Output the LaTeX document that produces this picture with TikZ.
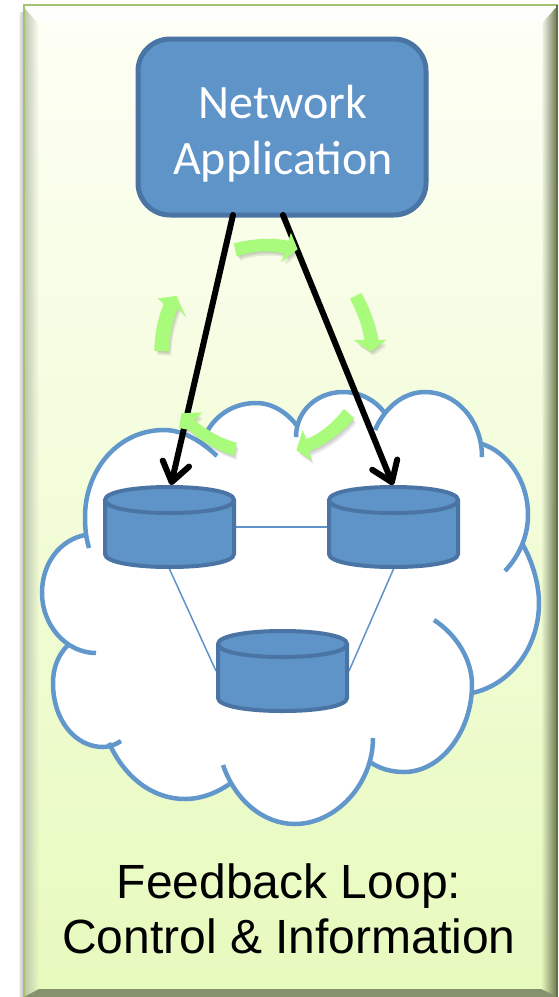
\documentclass[tikz,border=0pt]{standalone}
\usepackage{fontspec}
\setmainfont{Liberation Sans}
\newfontfamily\boxfont{Carlito}
\usetikzlibrary{arrows.meta,fadings}
\definecolor{nodeblue}{HTML}{5F94C8}
\definecolor{edgeblue}{HTML}{4A74A3}
\definecolor{cloudblue}{HTML}{6297CC}
\definecolor{flowgreen}{HTML}{A9FB7B}
\definecolor{paneltop}{HTML}{FEFFF6}
\definecolor{panelbot}{HTML}{E7FABD}
\definecolor{paneledge}{HTML}{A5C270}
\tikzset{
  x=1pt,y=-1pt,
  appbox/.style={draw=edgeblue,fill=nodeblue,line width=5pt,rounded corners=32pt,
    minimum width=288pt,minimum height=176pt,inner sep=0pt,outer sep=2pt},
  applabel/.style={text=white,align=center,font=\boxfont\fontsize{48}{56}\selectfont},
  dbnode/.style={minimum width=133pt,minimum height=84pt,inner sep=0pt,outer sep=0pt},
  dbshape/.style={draw=edgeblue,fill=nodeblue,line width=4pt},
  link/.style={draw=nodeblue,line width=1.5pt},
  lobe/.style={draw=cloudblue,line width=4.5pt},
  ctrl/.style={black,line width=6pt,line cap=round,
    -{Straight Barb[length=19pt,width=27pt,line width=6pt,round]}},
  flowfill/.style={fill=flowgreen,draw=flowgreen,line width=1.5pt,line join=miter},
  flowshade/.style={fill=black,opacity=0.07},
  caption/.style={align=center,text=black,font=\fontsize{48}{55}\selectfont}
}
\newcommand\lobeA{(217,456) .. controls (200,440) and (182,430) .. (164,430) .. controls (118,430) and (85,470) .. (85,517) .. controls (85,528) and (86,538) .. (89,548)}
\newcommand\lobeB{(85,535) .. controls (60,540) and (42,563) .. (42,593) .. controls (42,625) and (66,653) .. (96,653)}
\newcommand\lobeC{(68,645) .. controls (58,655) and (53,668) .. (53,683) .. controls (53,720) and (75,747) .. (103,747) .. controls (109,747) and (115,745) .. (121,741)}
\newcommand\lobeD{(109,743) .. controls (125,778) and (153,799) .. (185,799) .. controls (201,799) and (217,793) .. (231,783)}
\newcommand\lobeE{(223,765) .. controls (235,800) and (263,824) .. (295,824) .. controls (335,824) and (373,785) .. (373,738)}
\newcommand\lobeF{(370,762) .. controls (380,769) and (392,772) .. (404,772) .. controls (442,772) and (472,730) .. (472,685) .. controls (472,660) and (457,635) .. (434,620)}
\newcommand\lobeG{(472,693) .. controls (510,685) and (539,648) .. (539,603) .. controls (539,585) and (533,563) .. (523,545)}
\newcommand\lobeH{(505,571) .. controls (520,555) and (528,535) .. (528,515) .. controls (528,480) and (507,452) .. (482,444)}
\newcommand\lobeI{(482,457) .. controls (482,420) and (456,392) .. (425,392) .. controls (404,392) and (385,407) .. (375,430)}
\newcommand\lobeJ{(384,412) .. controls (375,400) and (360,392) .. (343,392) .. controls (318,392) and (296,410) .. (296,437)}
\newcommand\lobeK{(298,427) .. controls (287,412) and (272,403) .. (256,403) .. controls (236,403) and (218,413) .. (208,430)}
% feedback arrows, as outlines
\newcommand\flowA{(234.7,244) .. controls (250,240) and (270,237.5) .. (289,241.7) -- (291,235) -- (296.7,249) -- (282.7,260) -- (285.7,253.3) .. controls (270,249) and (252,250) .. (237.3,255.7) -- cycle}
\newcommand\flowB{(351,299) -- (361,294) .. controls (369,308) and (375,325) .. (376.7,340.7) -- (384,340.7) -- (370.7,350.7) -- (356,340.7) -- (365,340.7) .. controls (364,327) and (358,313) .. (351,299) -- cycle}
\newcommand\flowC{(344,410) -- (353.3,418.3) .. controls (342,432) and (326,444) .. (308.3,451) -- (310.7,459) -- (297.3,450) -- (302.7,432.3) -- (306,440) .. controls (320,435) and (334,423) .. (344,410) -- cycle}
\newcommand\flowD{(236,443.3) -- (233.3,455) .. controls (216,449) and (201,440) .. (189.3,429.3) -- (180,427.3) -- (182,414) -- (200,413.3) -- (193,420) .. controls (205,430) and (220,439) .. (236,443.3) -- cycle}
\newcommand\flowE{(155,350) -- (168.3,350.7) .. controls (168.5,335) and (172,320) .. (177.7,306.7) -- (183.3,312.7) -- (176,296.7) -- (159.3,299) -- (165,303.3) .. controls (159,316) and (155.5,333) .. (155,350) -- cycle}
\newcommand\dbdraw[1]{%
  \draw[dbshape] ([shift={(-64.5,-27)}]#1.center) -- ([shift={(-64.5,27)}]#1.center)
    .. controls ([shift={(-64.5,35)}]#1.center) and ([shift={(-36,40)}]#1.center) .. ([shift={(0,40)}]#1.center)
    .. controls ([shift={(36,40)}]#1.center) and ([shift={(64.5,35)}]#1.center) .. ([shift={(64.5,27)}]#1.center)
    -- ([shift={(64.5,-27)}]#1.center);
  \draw[dbshape] ([shift={(-64.5,-27)}]#1.center)
    .. controls ([shift={(-64.5,-35)}]#1.center) and ([shift={(-36,-40)}]#1.center) .. ([shift={(0,-40)}]#1.center)
    .. controls ([shift={(36,-40)}]#1.center) and ([shift={(64.5,-35)}]#1.center) .. ([shift={(64.5,-27)}]#1.center)
    .. controls ([shift={(64.5,-19)}]#1.center) and ([shift={(36,-14)}]#1.center) .. ([shift={(0,-14)}]#1.center)
    .. controls ([shift={(-36,-14)}]#1.center) and ([shift={(-64.5,-19)}]#1.center) .. cycle;
}
\newcommand\flowdraw[1]{%
  \fill[flowshade,xshift=1pt,yshift=-2pt] #1;
  \fill[flowshade,xshift=2pt,yshift=-3.5pt] #1;
  \fill[flowshade,xshift=3pt,yshift=-5pt] #1;
  \filldraw[flowfill] #1;
}
\begin{document}
\begin{tikzpicture}
\useasboundingbox (0,0) rectangle (558,997);
\fill[white] (0,0) rectangle (558,997);
% drop shadow on the left of the panel
\shade[left color=white,right color=black!30] (18,12) rectangle (24,997);
% panel
\shade[top color=paneltop,bottom color=panelbot] (24,5) rectangle (558,997);
% bevels
\fill[white,opacity=0.7] (24,5) -- (558,5) -- (541,22) -- (39,22) -- cycle;
\fill[black!35!paneledge!45!white,path fading=east] (24,5) -- (39,22) -- (39,989) -- (24,997) -- cycle;
\fill[black!45!paneledge!85!white,path fading=west] (541,22) -- (556,5) -- (556,997) -- (541,989) -- cycle;
\fill[black!42!panelbot] (24,997) -- (39,989) -- (541,989) -- (558,997) -- cycle;
\draw[paneledge,line width=2pt] (558,5) -- (24,5) -- (24,997);
\fill[black!40!paneledge] (556,5) rectangle (558,997);
% cloud
\fill[white] \lobeA -- cycle;
\fill[white] \lobeB -- cycle;
\fill[white] \lobeC -- cycle;
\fill[white] \lobeD -- cycle;
\fill[white] \lobeE -- cycle;
\fill[white] \lobeF -- cycle;
\fill[white] \lobeG -- cycle;
\fill[white] \lobeH -- cycle;
\fill[white] \lobeI -- cycle;
\fill[white] \lobeJ -- cycle;
\fill[white] \lobeK -- cycle;
\fill[white] (164,432) -- (208,431) -- (256,405) -- (296,427) -- (343,394) -- (380,414) -- (425,394) -- (482,446) -- (526,515) -- (505,571) -- (523,547) -- (537,603) -- (472,692) -- (445,690)
  -- (404,770) -- (370,764) -- (295,822) -- (232,783) -- (185,797) -- (111,745) -- (70,647) -- (44,593) -- (86,536) -- (87,517) -- cycle;
\draw[lobe] \lobeA;
\draw[lobe] \lobeB;
\draw[lobe] \lobeC;
\draw[lobe] \lobeD;
\draw[lobe] \lobeE;
\draw[lobe] \lobeF;
\draw[lobe] \lobeG;
\draw[lobe] \lobeH;
\draw[lobe] \lobeI;
\draw[lobe] \lobeJ;
\draw[lobe] \lobeK;
% nodes
\node[appbox] (app) at (282,127) {};
\node[applabel] (applab) at (283,134) {Network\\Application};
\node[dbnode] (a) at (169.5,527) {};
\node[dbnode] (b) at (393.5,527) {};
\node[dbnode] (c) at (282.5,671) {};
% links
\draw[link] (a.east) -- (b.west);
\draw[link] (a.south) -- (c.west);
\draw[link] (b.south) -- (c.east);
\dbdraw{a}
\dbdraw{b}
\dbdraw{c}
% control arrows
\coordinate (appL) at (233,215);
\coordinate (appR) at (283,215);
\coordinate (aTop) at (171,485);
\coordinate (bTop) at (393,485);
\draw[ctrl] (appL) -- (aTop);
\draw[ctrl] (appR) -- (bTop);
% feedback arrows
\flowdraw{\flowA}
\flowdraw{\flowB}
\flowdraw{\flowC}
\flowdraw{\flowD}
\flowdraw{\flowE}
% caption
\node[caption] (cap) at (289,909) {Feedback Loop:\\Control \& Information};
\end{tikzpicture}
\end{document}
